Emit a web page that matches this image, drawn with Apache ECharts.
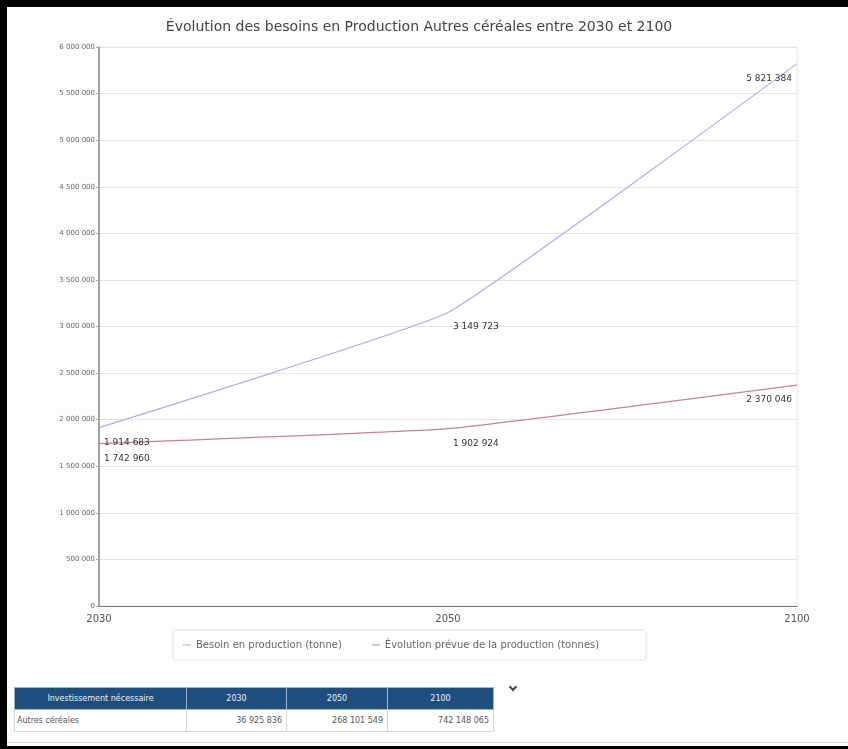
<!DOCTYPE html>
<html>
<head>
<meta charset="utf-8">
<script src="https://cdn.jsdelivr.net/npm/echarts@6/dist/echarts.min.js"></script>
<style>
  html, body { margin: 0; padding: 0; width: 848px; height: 749px; background: #fff; overflow: hidden; }
  #frame { position: absolute; left: 0; top: 0; width: 848px; height: 749px; box-sizing: border-box;
           border-top: 7px solid #000; border-left: 7px solid #000; border-bottom: 3px solid #000; background: #fdfdfd; }
  #chart { position: absolute; left: 0; top: 0; width: 848px; height: 680px; }
  #invest { position: absolute; left: 14px; top: 687px; border-collapse: collapse; font-family: 'DejaVu Sans', sans-serif; font-size: 8px; }
  #invest th { background: #1d4e7e; color: #f2f2f2; font-weight: normal; height: 21px; padding: 0 4px; border: 1px solid #9fb6cc; text-align: center; }
  #invest td { height: 21px; padding: 0 4px; border: 1px solid #d6d6d6; color: #555; text-align: right; background: #fff; }
  #invest td.name { text-align: left; padding-left: 2px; }
  #chev { position: absolute; left: 510px; top: 684px; width: 4px; height: 4px; border-right: 2px solid #445; border-bottom: 2px solid #445; transform: rotate(45deg); }
  #rule { position: absolute; left: 7px; right: 0; top: 742px; height: 1px; background: #d8d8d8; }
</style>
</head>
<body>
<div id="frame"></div>
<div id="chart"></div>
<div id="rule"></div>
<table id="invest">
  <thead><tr id="headRow"></tr></thead>
  <tbody><tr id="bodyRow"></tr></tbody>
</table>
<div id="chev"></div>
<script>
// Years shown on the horizontal axis
const years = ['2030', '2050', '2100'];
// Production needs (tonnes)
const besoin = [1914683, 3149723, 5821384];
// Expected production trend (tonnes)
const evolution = [1742960, 1902924, 2370046];
const seriesNames = ['Besoin en production (tonne)', 'Évolution prévue de la production (tonnes)'];
const titleText = 'Évolution des besoins en Production Autres céréales entre 2030 et 2100';
// Investment table
const tableHeader = ['Investissement nécessaire', '2030', '2050', '2100'];
const tableRowName = 'Autres céréales';
const investValues = [36925836, 268101549, 742148065];

const colWidths = [173, 101, 102, 107];

function fmt(v) {
  return String(Math.round(v)).replace(/\B(?=(\d{3})+(?!\d))/g, ' ');
}

// Build the investment table
const headRow = document.getElementById('headRow');
tableHeader.forEach((h, i) => {
  const th = document.createElement('th');
  th.textContent = h;
  th.style.width = (colWidths[i] - 10) + 'px';
  headRow.appendChild(th);
});
const bodyRow = document.getElementById('bodyRow');
const nameCell = document.createElement('td');
nameCell.className = 'name';
nameCell.textContent = tableRowName;
bodyRow.appendChild(nameCell);
investValues.forEach(v => {
  const td = document.createElement('td');
  td.textContent = fmt(v);
  bodyRow.appendChild(td);
});

function labelled(values) {
  return values.map((v, i) => {
    const last = i === values.length - 1;
    return {
      value: v,
      label: {
        show: true,
        position: 'bottom',
        align: last ? 'right' : 'left',
        offset: last ? [-5, 5] : [5, 5],
        formatter: p => fmt(p.value),
        fontSize: 9,
        color: '#333',
        fontFamily: 'DejaVu Sans'
      }
    };
  });
}

const chart = echarts.init(document.getElementById('chart'), null, { renderer: 'canvas' });
chart.setOption({
  animation: false,
  backgroundColor: 'transparent',
  title: {
    text: titleText,
    left: 414, textAlign: 'center', top: 15,
    textStyle: { fontSize: 14, fontWeight: 'normal', color: '#444', fontFamily: 'DejaVu Sans' }
  },
  grid: { left: 99, right: 51, top: 47, bottom: 74, show: true, borderColor: '#e6e6e6', borderWidth: 1, backgroundColor: '#fff' },
  xAxis: {
    type: 'category',
    data: years,
    boundaryGap: false,
    axisLine: { lineStyle: { color: '#777', width: 1 } },
    axisTick: { show: false },
    axisLabel: { fontSize: 10, color: '#555', margin: 8, fontFamily: 'DejaVu Sans' },
    splitLine: { show: false }
  },
  yAxis: {
    type: 'value',
    min: 0, max: 6000000, interval: 500000,
    axisLine: { show: true, lineStyle: { color: '#888', width: 1.5 } },
    axisTick: { show: true, length: 3, lineStyle: { color: '#aaa' } },
    axisLabel: { fontSize: 7, color: '#666', margin: 4, formatter: v => fmt(v), fontFamily: 'DejaVu Sans' },
    splitLine: { lineStyle: { color: '#e4e4e4', width: 1 } }
  },
  legend: {
    left: 173, top: 630,
    data: seriesNames,
    icon: 'rect', itemWidth: 8, itemHeight: 1, itemGap: 30,
    padding: [10, 47, 10, 10],
    borderColor: '#e2e2e2', borderWidth: 1, borderRadius: 3,
    backgroundColor: '#fff',
    textStyle: { fontSize: 10, color: '#666', fontFamily: 'DejaVu Sans' }
  },
  series: [
    {
      name: seriesNames[0], type: 'line', data: labelled(besoin),
      smooth: 0.1, showSymbol: true, symbol: 'circle', symbolSize: 0.1,
      color: '#adadee', lineStyle: { width: 1.2, color: '#adadee' }
    },
    {
      name: seriesNames[1], type: 'line', data: labelled(evolution),
      smooth: 0.1, showSymbol: true, symbol: 'circle', symbolSize: 0.1,
      color: '#c7848e', lineStyle: { width: 1.2, color: '#c7848e' }
    }
  ]
});
</script>
</body>
</html>
